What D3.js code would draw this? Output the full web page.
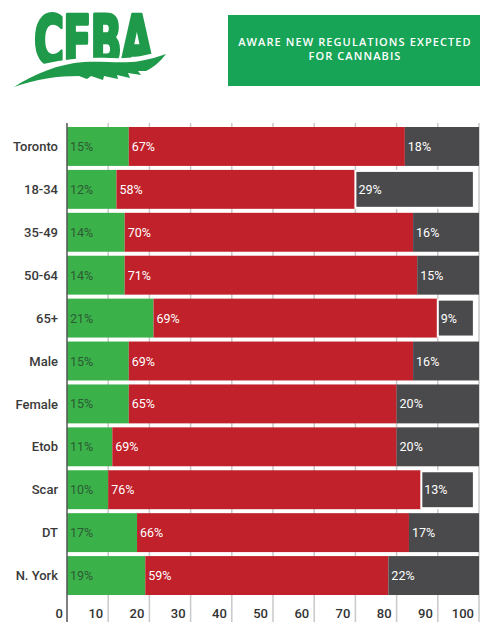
<!DOCTYPE html>
<html><head><meta charset="utf-8">
<script src="https://cdn.jsdelivr.net/npm/d3@7"></script>
<style>
html,body{margin:0;padding:0;background:#fff;}
svg{display:block;}
</style></head>
<body>
<svg id="chart" width="495" height="640"></svg>
<script>
const categories = ["Toronto","18-34","35-49","50-64","65+","Male","Female","Etob","Scar","DT","N. York"];
const greenValues = [15,12,14,14,21,15,15,11,10,17,19];
const redValues   = [67,58,70,71,69,69,65,69,76,66,59];
const grayValues  = [18,29,16,15,9,16,20,20,13,17,22];
const tickValues  = [0,10,20,30,40,50,60,70,80,90,100];
const titleLines  = ["AWARE NEW REGULATIONS EXPECTED","FOR CANNABIS"];
const logoText = "CFBA";

const colors = {green:"#3bb14a", red:"#c0212a", gray:"#4a4a4c"};
const labelColors = {green:"#2d5a34", red:"#ffffff", gray:"#ffffff"};

const svg = d3.select("#chart");
const x = d3.scaleLinear().domain([0,100]).range([67,479]);
const y = d3.scaleBand().domain(categories).range([127,595]).paddingInner(0.093).paddingOuter(0);

// gridlines
svg.append("g").selectAll("line").data(tickValues.slice(1)).join("line")
  .attr("x1", d=>x(d)).attr("x2", d=>x(d)).attr("y1",123).attr("y2",622)
  .attr("stroke","#c9c9c9").attr("stroke-width",1.5);

// stacked data
const rows = categories.map((c,i)=>{
  const segs = [
    {key:"green", v:greenValues[i]},
    {key:"red", v:redValues[i]},
    {key:"gray", v:grayValues[i]}
  ];
  let acc = 0;
  segs.forEach(s=>{s.x0=acc; acc+=s.v; s.x1=acc; s.cat=c;});
  segs.total = acc;
  return segs;
});

const g = svg.append("g");
rows.forEach(segs=>{
  segs.forEach((s,j)=>{
    const outlined = (j===2 && segs.total<100);
    g.append("rect")
      .attr("x", x(s.x0)).attr("y", y(s.cat) + (outlined?1:0))
      .attr("width", x(s.x1)-x(s.x0) - (outlined?1:0))
      .attr("height", y.bandwidth() - (outlined?2:0))
      .attr("fill", colors[s.key])
      .attr("stroke", outlined ? "#fff" : "none")
      .attr("stroke-width", outlined ? 2 : 0);
    g.append("text")
      .attr("x", x(s.x0)+3).attr("y", y(s.cat)+y.bandwidth()/2)
      .attr("dy","0.36em")
      .attr("font-family","Roboto, sans-serif").attr("font-size",12.5)
      .attr("fill", labelColors[s.key])
      .text(s.v+"%");
  });
});

// left axis line
svg.append("line").attr("x1",x(0)).attr("x2",x(0)).attr("y1",123).attr("y2",622)
  .attr("stroke","#555").attr("stroke-width",1.5);

// category labels
svg.append("g").selectAll("text").data(categories).join("text")
  .attr("x",58).attr("y",d=>y(d)+y.bandwidth()/2).attr("dy","0.36em")
  .attr("text-anchor","end")
  .attr("font-family","Roboto, sans-serif").attr("font-weight",500).attr("font-size",13)
  .attr("fill","#3a3a3a").text(d=>d);

// tick labels
svg.append("g").selectAll("text").data(tickValues).join("text")
  .attr("x",d=>x(d)-(d===0?4:5)).attr("y",613).attr("dy","0.36em")
  .attr("text-anchor","end")
  .attr("font-family","Roboto, sans-serif").attr("font-weight",500).attr("font-size",13)
  .attr("fill","#333").text(d=>d);

// title box
svg.append("rect").attr("x",228).attr("y",15).attr("width",252).attr("height",71).attr("fill","#17a457");
svg.append("g").selectAll("text").data(titleLines).join("text")
  .attr("x",355).attr("y",(d,i)=>42+i*14).attr("dy","0.36em")
  .attr("text-anchor","middle")
  .attr("font-family","'Open Sans', sans-serif").attr("font-weight",600).attr("font-size",11)
  .attr("letter-spacing",1.1)
  .attr("fill","#fff").text(d=>d);

// logo
const logo = svg.append("g");
const fs = 60;
const lt = logo.append("text").attr("x",0).attr("y",0)
  .attr("font-family","'DejaVu Sans Condensed','Liberation Sans Narrow','DejaVu Sans',sans-serif")
  .attr("font-weight",900).attr("font-size",fs).attr("fill","#1f9a4b")
  .attr("stroke","#1f9a4b").attr("stroke-width",3).attr("stroke-linejoin","round")
  .attr("letter-spacing",-1)
  .text(logoText);
const bb = lt.node().getBBox();
const capH = 0.729*fs + 3;
const tx0=34, tw=119, logoTop=13, logoBottom=66;
const sx = tw/bb.width, sy = (logoBottom-logoTop)/capH;
lt.attr("transform",`translate(${tx0},${logoBottom}) scale(${sx},${sy}) translate(${-bb.x},-1.5)`);
// white wave cutting letter bottoms
logo.append("path")
  .attr("d","M0,80 C30,64 70,56 110,58 C135,59 150,55 175,46 L175,75 L0,95 Z")
  .attr("fill","#fff");
// swoosh leaf
logo.append("path")
  .attr("d","M14,87 C34,74 58,64 84,62 C104,61 124,64 140,61 C150,59 158,57 166,54 C160,62 154,67 146,71 L138,71 L141,75 L128,73 L130,78 L117,75 L118,79 L104,76 L103,80 L91,76 L87,79 L79,76 C58,76 36,79 14,87 Z")
  .attr("fill","#1f9a4b");
</script>
</body></html>
